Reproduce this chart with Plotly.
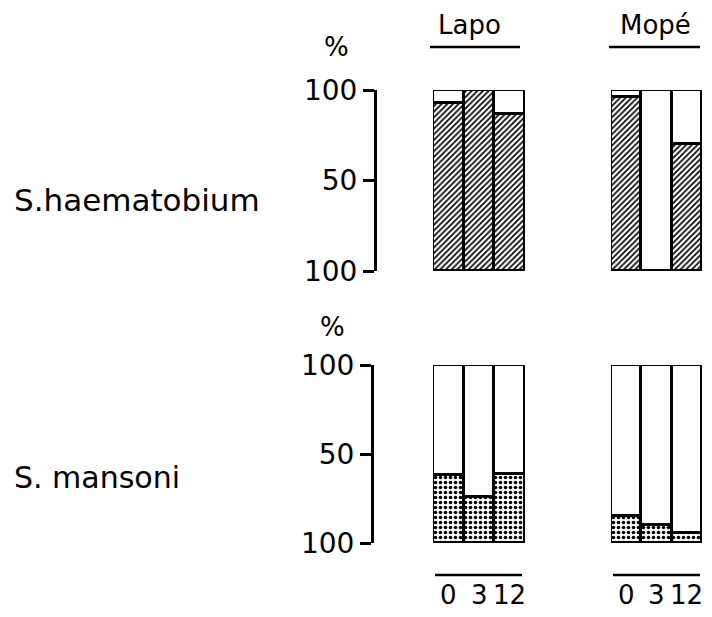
import plotly.graph_objects as go

# ---- data ----
timepoints = ["0", "3", "12"]          # months
villages = ["Lapo", "Mopé"]
species = ["S.haematobium", "S. mansoni"]
haem_lapo = [92.6, 100.0, 86.7]        # % (hatched part)
haem_mope = [96.3, 0.0, 70.0]
mans_lapo = [38.0, 26.0, 38.5]         # % (dotted part)
mans_mope = [15.0, 10.0, 5.5]
ytick_vals = [0, 50, 100]
ytick_text = ["100", "50", "100"]

OFF = 8                     # page body margin
W, H = 712 - 2 * OFF, 617 - 2 * OFF
FONT = "DejaVu Sans"


def px(p):
    return (p - OFF) / W


def py(p):
    return 1 - (p - OFF) / H


fig = go.Figure()

panels = [
    (haem_lapo, "x", "y", "/", 4, 0.42),
    (haem_mope, "x2", "y", "/", 4, 0.42),
    (mans_lapo, "x3", "y2", ".", 5, 0.4),
    (mans_mope, "x4", "y2", ".", 5, 0.4),
]
xs = list(range(len(timepoints)))
for vals, xa, ya, shape, size, sol in panels:
    fig.add_trace(go.Bar(
        x=xs, y=vals, xaxis=xa, yaxis=ya, width=1.0,
        marker=dict(color="white",
                    line=dict(color="black", width=3),
                    pattern=dict(shape=shape, size=size, solidity=sol,
                                 fgcolor="black", bgcolor="white")),
        showlegend=False, hoverinfo="skip"))
    fig.add_trace(go.Bar(
        x=xs, y=[100 - v for v in vals], xaxis=xa, yaxis=ya, width=1.0,
        marker=dict(color="white", line=dict(color="black", width=3)),
        showlegend=False, hoverinfo="skip"))

xcommon = dict(range=[-0.5, 2.5], showgrid=False, zeroline=False,
               showline=False, ticks="", fixedrange=True, automargin=False,
               showticklabels=False)
ycommon = dict(range=[0, 100], showgrid=False, zeroline=False,
               showline=True, linewidth=3, linecolor="black",
               ticks="outside", ticklen=11, tickwidth=3, tickcolor="black",
               tickvals=ytick_vals, ticktext=ytick_text,
               tickfont=dict(family=FONT, size=28, color="black"),
               anchor="free", automargin=False)

fig.update_layout(
    template="none",
    width=W, height=H, autosize=False,
    margin=dict(l=0, r=0, t=0, b=0, pad=0),
    paper_bgcolor="white", plot_bgcolor="rgba(0,0,0,0)",
    barmode="stack", bargap=0,
    font=dict(family=FONT, color="black"),
    xaxis=dict(domain=[px(433), px(525)], anchor="y", **xcommon),
    xaxis2=dict(domain=[px(611), px(702)], anchor="y", **xcommon),
    xaxis3=dict(domain=[px(433), px(525)], anchor="y2", **xcommon),
    xaxis4=dict(domain=[px(611), px(702)], anchor="y2", **xcommon),
    yaxis=dict(domain=[py(271), py(90)], position=px(375), **ycommon),
    yaxis2=dict(domain=[py(543), py(365)], position=px(372), **ycommon),
)

# time-point labels under the bottom panels, placed on the x scales
for xa in ["x3", "x4"]:
    for i, t in enumerate(timepoints):
        fig.add_annotation(text=t, x=xs[i], xref=xa, y=py(595), yref="paper",
                           xanchor="center", yanchor="middle", showarrow=False,
                           font=dict(family=FONT, size=26, color="black"))

# underlines for headings and time axis
for x0, x1, y in [(430, 520, 47), (609, 700, 47), (435, 522, 575), (613, 700, 575)]:
    fig.add_shape(type="line", xref="paper", yref="paper",
                  x0=px(x0), x1=px(x1), y0=py(y), y1=py(y),
                  line=dict(color="black", width=2.5))

ann = [
    (villages[0], 469, 25, 26, "center"),
    (villages[1], 655, 25, 26, "center"),
    ("%", 336, 47, 26, "center"),
    ("%", 332, 327, 26, "center"),
    (species[0], 12, 200, 31, "left"),
    (species[1], 12, 477, 30, "left"),
]
for txt, x, y, s, xa in ann:
    fig.add_annotation(text=txt, x=px(x), y=py(y), xref="paper", yref="paper",
                       xanchor=xa, yanchor="middle", showarrow=False,
                       font=dict(family=FONT, size=s, color="black"))

fig.write_html("out.html")
